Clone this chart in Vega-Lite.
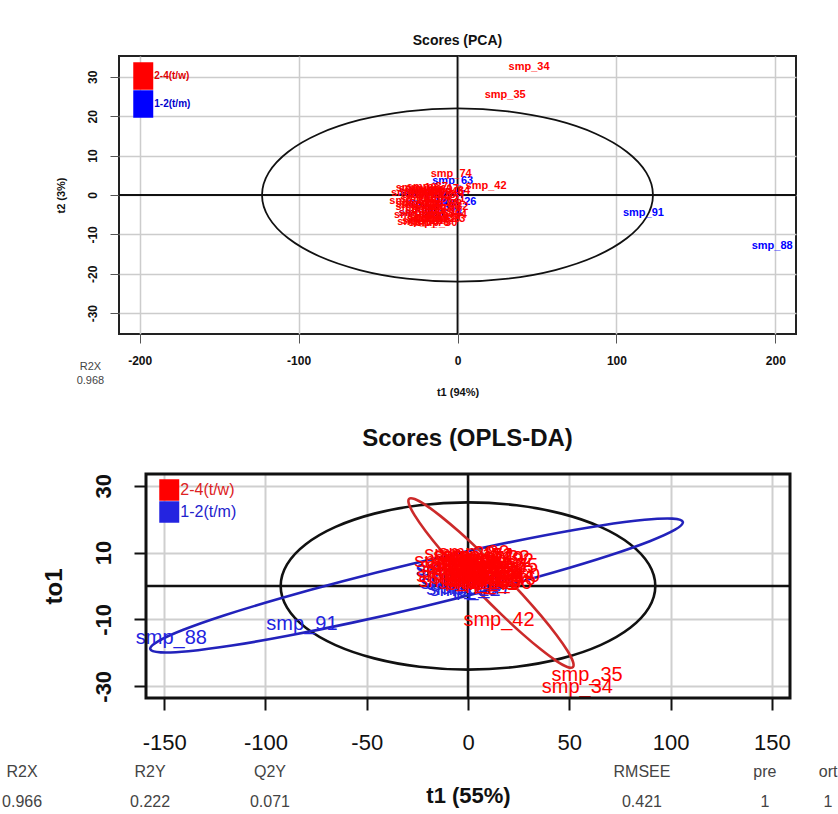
{
  "$schema": "https://vega.github.io/schema/vega-lite/v6.json",
  "padding": {"left": 2, "top": 33, "right": 0, "bottom": 0},
  "spacing": 28,
  "config": {
    "font": "Liberation Sans",
    "view": {"stroke": "#222", "strokeWidth": 2},
    "axis": {"labelFont": "Liberation Sans", "titleFont": "Liberation Sans", "labelColor": "#111", "titleColor": "#111", "domain": false, "grid": true},
    "title": {"font": "Liberation Sans", "color": "#111", "fontWeight": "bold", "anchor": "middle"}
  },
  "resolve": {"scale": {"color": "independent"}, "legend": {"color": "independent"}},
  "datasets": {
    "one": [{}],
    "smp": [
      {"n": "smp_88", "g": "1-2(t/m)", "t1": 198, "t2": -13, "p": -146.5, "o": -15.5},
      {"n": "smp_91", "g": "1-2(t/m)", "t1": 117, "t2": -4.5, "p": -82, "o": -11.4},
      {"n": "smp_63", "g": "1-2(t/m)", "t1": -3, "t2": 3.6, "p": -2, "o": 4},
      {"n": "smp_26", "g": "1-2(t/m)", "t1": -1, "t2": -1.8, "p": -5, "o": 2},
      {"n": "smp_78", "g": "1-2(t/m)", "t1": -10, "t2": -4.6, "p": -3, "o": -1},
      {"n": "smp_3", "g": "1-2(t/m)", "t1": -26, "t2": 0.8, "p": -11, "o": 4.8},
      {"n": "smp_12", "g": "1-2(t/m)", "t1": -24, "t2": -4.6, "p": -1.5, "o": -1.2},
      {"n": "smp_20", "g": "1-2(t/m)", "t1": -20, "t2": -2, "p": -6, "o": 1},
      {"n": "smp_33", "g": "1-2(t/m)", "t1": -14, "t2": -3.2, "p": 0, "o": 0.5},
      {"n": "smp_47", "g": "1-2(t/m)", "t1": -8, "t2": 0, "p": 4, "o": -0.5},
      {"n": "smp_55", "g": "1-2(t/m)", "t1": -17, "t2": 0.5, "p": -8, "o": 5},
      {"n": "smp_74", "g": "2-4(t/w)", "t1": -4, "t2": 5.3, "p": 5, "o": 9},
      {"n": "smp_42", "g": "2-4(t/w)", "t1": 18, "t2": 2.3, "p": 15.3, "o": -10.2},
      {"n": "smp_35", "g": "2-4(t/w)", "t1": 30, "t2": 25.3, "p": 58.8, "o": -26.6},
      {"n": "smp_34", "g": "2-4(t/w)", "t1": 45, "t2": 32.4, "p": 54, "o": -30.2},
      {"n": "smp_2", "g": "2-4(t/w)", "t1": -25, "t2": -1, "p": 2, "o": 5},
      {"n": "smp_5", "g": "2-4(t/w)", "t1": -20, "t2": 0.5, "p": 8, "o": 6},
      {"n": "smp_7", "g": "2-4(t/w)", "t1": -15, "t2": -2, "p": -3, "o": 7},
      {"n": "smp_9", "g": "2-4(t/w)", "t1": -28, "t2": -3, "p": 12, "o": 3},
      {"n": "smp_11", "g": "2-4(t/w)", "t1": -10, "t2": -4, "p": 0, "o": 9},
      {"n": "smp_13", "g": "2-4(t/w)", "t1": -18, "t2": -5.5, "p": 15, "o": 4},
      {"n": "smp_15", "g": "2-4(t/w)", "t1": -22, "t2": -6.5, "p": -6, "o": 6},
      {"n": "smp_17", "g": "2-4(t/w)", "t1": -12, "t2": 1.5, "p": 6, "o": 2},
      {"n": "smp_19", "g": "2-4(t/w)", "t1": -26, "t2": 1.8, "p": 10, "o": 8},
      {"n": "smp_21", "g": "2-4(t/w)", "t1": -8, "t2": -1, "p": -8, "o": 3},
      {"n": "smp_23", "g": "2-4(t/w)", "t1": -16, "t2": -3.5, "p": 3, "o": 1},
      {"n": "smp_25", "g": "2-4(t/w)", "t1": -24, "t2": -4.5, "p": 17, "o": 6},
      {"n": "smp_28", "g": "2-4(t/w)", "t1": -14, "t2": 0, "p": -4, "o": 9.5},
      {"n": "smp_30", "g": "2-4(t/w)", "t1": -30, "t2": -1.5, "p": 9, "o": 4},
      {"n": "smp_32", "g": "2-4(t/w)", "t1": -6, "t2": -3, "p": 13, "o": 8.5},
      {"n": "smp_37", "g": "2-4(t/w)", "t1": -19, "t2": 2, "p": 1, "o": 3.5},
      {"n": "smp_39", "g": "2-4(t/w)", "t1": -11, "t2": -6, "p": -9, "o": 7.5},
      {"n": "smp_41", "g": "2-4(t/w)", "t1": -27, "t2": -5, "p": 7, "o": 0.5},
      {"n": "smp_44", "g": "2-4(t/w)", "t1": -17, "t2": -0.5, "p": 4, "o": 6.5},
      {"n": "smp_46", "g": "2-4(t/w)", "t1": -9, "t2": 0.8, "p": 16, "o": 2},
      {"n": "smp_48", "g": "2-4(t/w)", "t1": -23, "t2": -2.5, "p": -2, "o": 5.5},
      {"n": "smp_50", "g": "2-4(t/w)", "t1": -13, "t2": -7, "p": 11, "o": 5},
      {"n": "smp_52", "g": "2-4(t/w)", "t1": -21, "t2": 1, "p": 5, "o": 9},
      {"n": "smp_54", "g": "2-4(t/w)", "t1": -7, "t2": -5, "p": -7, "o": 1.5},
      {"n": "smp_56", "g": "2-4(t/w)", "t1": -29, "t2": 0.5, "p": 14, "o": 1},
      {"n": "smp_58", "g": "2-4(t/w)", "t1": -15, "t2": -4.8, "p": 2, "o": 7},
      {"n": "smp_60", "g": "2-4(t/w)", "t1": -25, "t2": -6.8, "p": 18, "o": 3},
      {"n": "smp_62", "g": "2-4(t/w)", "t1": -10, "t2": -2.2, "p": -5, "o": 4.5},
      {"n": "smp_65", "g": "2-4(t/w)", "t1": -20, "t2": -3.8, "p": 8, "o": 1.5},
      {"n": "smp_67", "g": "2-4(t/w)", "t1": -12, "t2": -1.2, "p": 12, "o": 6},
      {"n": "smp_69", "g": "2-4(t/w)", "t1": -16, "t2": 1.2, "p": 0, "o": 5},
      {"n": "smp_71", "g": "2-4(t/w)", "t1": -26, "t2": -2.2, "p": 6, "o": 8},
      {"n": "smp_73", "g": "2-4(t/w)", "t1": -8, "t2": -6.2, "p": -1, "o": 2.5},
      {"n": "smp_76", "g": "2-4(t/w)", "t1": -18, "t2": -7.2, "p": 10, "o": 3},
      {"n": "smp_80", "g": "2-4(t/w)", "t1": -22, "t2": 0, "p": 3, "o": 9.8},
      {"n": "smp_82", "g": "2-4(t/w)", "t1": -14, "t2": -6, "p": 15, "o": 7.5},
      {"n": "smp_84", "g": "2-4(t/w)", "t1": -5, "t2": 1, "p": -3, "o": 6},
      {"n": "smp_86", "g": "2-4(t/w)", "t1": -24, "t2": 1.5, "p": 7, "o": 4},
      {"n": "smp_90", "g": "2-4(t/w)", "t1": -11, "t2": -3, "p": 1, "o": 8},
      {"n": "smp_93", "g": "2-4(t/w)", "t1": -19, "t2": -6, "p": 9, "o": 2}
    ],
    "ellTop": [
      {"i": 0, "x": 123, "y": 0}, {"i": 1, "x": 118.8, "y": 5.69}, {"i": 2, "x": 106.5, "y": 11}, {"i": 3, "x": 87, "y": 15.56},
      {"i": 4, "x": 61.5, "y": 19.05}, {"i": 5, "x": 31.8, "y": 21.25}, {"i": 6, "x": 0, "y": 22}, {"i": 7, "x": -31.8, "y": 21.25},
      {"i": 8, "x": -61.5, "y": 19.05}, {"i": 9, "x": -87, "y": 15.56}, {"i": 10, "x": -106.5, "y": 11}, {"i": 11, "x": -118.8, "y": 5.69},
      {"i": 12, "x": -123, "y": 0}, {"i": 13, "x": -118.8, "y": -5.69}, {"i": 14, "x": -106.5, "y": -11}, {"i": 15, "x": -87, "y": -15.56},
      {"i": 16, "x": -61.5, "y": -19.05}, {"i": 17, "x": -31.8, "y": -21.25}, {"i": 18, "x": 0, "y": -22}, {"i": 19, "x": 31.8, "y": -21.25},
      {"i": 20, "x": 61.5, "y": -19.05}, {"i": 21, "x": 87, "y": -15.56}, {"i": 22, "x": 106.5, "y": -11}, {"i": 23, "x": 118.8, "y": -5.69}
    ],
    "ellBlack": [
      {"i": 0, "x": 92.5, "y": 0}, {"i": 1, "x": 89.35, "y": 6.47}, {"i": 2, "x": 80.1, "y": 12.5}, {"i": 3, "x": 65.41, "y": 17.68},
      {"i": 4, "x": 46.25, "y": 21.65}, {"i": 5, "x": 23.94, "y": 24.15}, {"i": 6, "x": 0, "y": 25}, {"i": 7, "x": -23.94, "y": 24.15},
      {"i": 8, "x": -46.25, "y": 21.65}, {"i": 9, "x": -65.41, "y": 17.68}, {"i": 10, "x": -80.1, "y": 12.5}, {"i": 11, "x": -89.35, "y": 6.47},
      {"i": 12, "x": -92.5, "y": 0}, {"i": 13, "x": -89.35, "y": -6.47}, {"i": 14, "x": -80.1, "y": -12.5}, {"i": 15, "x": -65.41, "y": -17.68},
      {"i": 16, "x": -46.25, "y": -21.65}, {"i": 17, "x": -23.94, "y": -24.15}, {"i": 18, "x": 0, "y": -25}, {"i": 19, "x": 23.94, "y": -24.15},
      {"i": 20, "x": 46.25, "y": -21.65}, {"i": 21, "x": 65.41, "y": -17.68}, {"i": 22, "x": 80.1, "y": -12.5}, {"i": 23, "x": 89.35, "y": -6.47}
    ],
    "ellBlue": [
      {"i": 0, "x": 106.1, "y": 19.15}, {"i": 1, "x": 102.25, "y": 16.84}, {"i": 2, "x": 89.76, "y": 13.4}, {"i": 3, "x": 69.38, "y": 9.05},
      {"i": 4, "x": 42.53, "y": 4.11}, {"i": 5, "x": 11.06, "y": -1.11}, {"i": 6, "x": -22.88, "y": -6.25}, {"i": 7, "x": -57, "y": -10.95},
      {"i": 8, "x": -88.97, "y": -14.89}, {"i": 9, "x": -116.62, "y": -17.81}, {"i": 10, "x": -138.04, "y": -19.5}, {"i": 11, "x": -151.75, "y": -19.86},
      {"i": 12, "x": -156.9, "y": -18.85}, {"i": 13, "x": -153.05, "y": -16.54}, {"i": 14, "x": -140.56, "y": -13.1}, {"i": 15, "x": -120.18, "y": -8.75},
      {"i": 16, "x": -93.33, "y": -3.81}, {"i": 17, "x": -61.86, "y": 1.41}, {"i": 18, "x": -27.92, "y": 6.55}, {"i": 19, "x": 6.2, "y": 11.25},
      {"i": 20, "x": 38.17, "y": 15.19}, {"i": 21, "x": 65.82, "y": 18.11}, {"i": 22, "x": 87.24, "y": 19.8}, {"i": 23, "x": 100.95, "y": 20.16}
    ],
    "ellRed": [
      {"i": 0, "x": 51.8, "y": -24.25}, {"i": 1, "x": 49.05, "y": -24.2}, {"i": 2, "x": 43.74, "y": -22.45}, {"i": 3, "x": 36.22, "y": -19.1},
      {"i": 4, "x": 27.01, "y": -14.4}, {"i": 5, "x": 16.72, "y": -8.64}, {"i": 6, "x": 6.07, "y": -2.24}, {"i": 7, "x": -4.22, "y": 4.38},
      {"i": 8, "x": -13.45, "y": 10.76}, {"i": 9, "x": -20.98, "y": 16.46}, {"i": 10, "x": -26.32, "y": 21.11}, {"i": 11, "x": -29.09, "y": 24.38},
      {"i": 12, "x": -29.1, "y": 26.05}, {"i": 13, "x": -26.35, "y": 26}, {"i": 14, "x": -21.04, "y": 24.25}, {"i": 15, "x": -13.52, "y": 20.9},
      {"i": 16, "x": -4.31, "y": 16.2}, {"i": 17, "x": 5.98, "y": 10.44}, {"i": 18, "x": 16.63, "y": 4.04}, {"i": 19, "x": 26.92, "y": -2.58},
      {"i": 20, "x": 36.15, "y": -8.96}, {"i": 21, "x": 43.68, "y": -14.66}, {"i": 22, "x": 49.02, "y": -19.31}, {"i": 23, "x": 51.79, "y": -22.58}
    ]
  },
  "vconcat": [
    {
      "width": 677,
      "height": 278,
      "title": {"text": "Scores (PCA)", "fontSize": 14, "offset": 7},
      "layer": [
        {
          "data": {"name": "ellTop"},
          "mark": {"type": "line", "color": "#111", "strokeWidth": 1.8, "interpolate": "cardinal-closed"},
          "encoding": {
            "x": {"field": "x", "type": "quantitative", "scale": {"domain": [-213, 213], "nice": false, "zero": false},
              "axis": {"values": [-200, -100, 0, 100, 200], "labelExpr": "'' + datum.value", "title": "t1 (94%)", "labelFontSize": 12, "labelFontWeight": "bold", "titleFontSize": 11, "titleFontWeight": "bold", "tickSize": 9, "tickColor": "#555", "labelPadding": 12, "titlePadding": 20, "gridColor": "#cccccc", "gridWidth": 1.5}},
            "y": {"field": "y", "type": "quantitative", "scale": {"domain": [-35.3, 35.3], "nice": false, "zero": false},
              "axis": {"values": [-30, -20, -10, 0, 10, 20, 30], "labelExpr": "'' + datum.value", "title": "t2 (3%)", "labelAngle": -90, "labelFontSize": 12, "labelFontWeight": "bold", "titleFontSize": 11, "titleFontWeight": "bold", "tickSize": 9, "tickColor": "#555", "labelPadding": 11, "titlePadding": 20, "gridColor": "#cccccc", "gridWidth": 1.5}},
            "order": {"field": "i"}
          }
        },
        {
          "data": {"name": "one"},
          "mark": {"type": "rule", "color": "#111", "strokeWidth": 1.8},
          "encoding": {"x": {"datum": 0}}
        },
        {
          "data": {"name": "one"},
          "mark": {"type": "rule", "color": "#111", "strokeWidth": 1.8},
          "encoding": {"y": {"datum": 0}}
        },
        {
          "data": {"name": "smp"},
          "mark": {"type": "text", "fontSize": 11, "fontWeight": "bold"},
          "encoding": {
            "x": {"field": "t1", "type": "quantitative"},
            "y": {"field": "t2", "type": "quantitative"},
            "text": {"field": "n"},
            "color": {"field": "g", "type": "nominal", "scale": {"domain": ["2-4(t/w)", "1-2(t/m)"], "range": ["#ff0000", "#0000ff"]},
              "legend": {"orient": "none", "legendX": 10.25, "legendY": 6, "title": null, "symbolType": "M-0.727,-1H0.727V1H-0.727Z", "symbolSize": 756, "symbolStrokeWidth": 0, "symbolOpacity": 1, "rowPadding": 0, "padding": 0, "labelOffset": -3, "labelFontSize": 10, "labelFontWeight": "bold",
                "encode": {"labels": {"update": {"fill": {"signal": "datum.value === '2-4(t/w)' ? '#e00000' : '#0000cc'"}}}, "symbols": {"update": {"fill": {"signal": "datum.value === '2-4(t/w)' ? '#ff0000' : '#0000ff'"}, "opacity": {"value": 1}}}}}}
          }
        },
        {
          "data": {"name": "one"},
          "mark": {"type": "text", "text": ["R2X", "0.968"], "fontSize": 11, "lineHeight": 14, "color": "#444", "baseline": "middle"},
          "encoding": {"x": {"datum": -231}, "y": {"datum": -43.7}}
        }
      ]
    },
    {
      "width": 671,
      "height": 224,
      "view": {"stroke": null},
      "title": {"text": "Scores (OPLS-DA)", "fontSize": 24, "offset": 22, "dx": 13},
      "layer": [
        {
          "data": {"name": "ellBlack"},
          "mark": {"type": "line", "color": "#111", "strokeWidth": 2.6, "interpolate": "cardinal-closed"},
          "encoding": {
            "x": {"field": "x", "type": "quantitative", "scale": {"domain": [-159, 159], "range": [27, 671], "nice": false, "zero": false},
              "axis": {"values": [-150, -100, -50, 0, 50, 100, 150], "labelExpr": "'' + datum.value", "title": "t1 (55%)", "labelFontSize": 22, "titleFontSize": 22, "titleFontWeight": "bold", "tickSize": 12, "tickWidth": 2, "tickColor": "#111", "labelPadding": 22, "titlePadding": 32, "gridColor": "#cfcfcf", "gridWidth": 2}},
            "y": {"field": "y", "type": "quantitative", "scale": {"domain": [-33.5, 33.5], "nice": false, "zero": false},
              "axis": {"values": [-30, -20, -10, 0, 10, 20, 30], "labelExpr": "datum.value % 20 == 0 ? '' : '' + datum.value", "offset": -27, "title": "to1", "labelAngle": -90, "labelFontSize": 22, "labelFontWeight": "bold", "titleFontSize": 24, "titleFontWeight": "bold", "tickSize": 12, "tickWidth": 2, "tickColor": "#111", "labelPadding": 19, "titlePadding": 26, "gridColor": "#cfcfcf", "gridWidth": 2}},
            "order": {"field": "i"}
          }
        },
        {
          "data": {"name": "one"},
          "mark": {"type": "rule", "color": "#111", "strokeWidth": 2.5},
          "encoding": {"x": {"datum": 0}}
        },
        {
          "data": {"name": "one"},
          "mark": {"type": "rule", "color": "#111", "strokeWidth": 2.5},
          "encoding": {"x": {"datum": -159}, "x2": {"datum": 159}, "y": {"datum": 0}}
        },
        {
          "data": {"name": "ellBlue"},
          "mark": {"type": "line", "color": "#2222bb", "strokeWidth": 2.6, "interpolate": "cardinal-closed"},
          "encoding": {
            "x": {"field": "x", "type": "quantitative"},
            "y": {"field": "y", "type": "quantitative"},
            "order": {"field": "i"}
          }
        },
        {
          "data": {"name": "ellRed"},
          "mark": {"type": "line", "color": "#cc2a2a", "strokeWidth": 2.6, "interpolate": "cardinal-closed"},
          "encoding": {
            "x": {"field": "x", "type": "quantitative"},
            "y": {"field": "y", "type": "quantitative"},
            "order": {"field": "i"}
          }
        },
        {
          "data": {"name": "smp"},
          "mark": {"type": "text", "fontSize": 20, "clip": true},
          "encoding": {
            "x": {"field": "p", "type": "quantitative"},
            "y": {"field": "o", "type": "quantitative"},
            "text": {"field": "n"},
            "color": {"field": "g", "type": "nominal", "scale": {"domain": ["2-4(t/w)", "1-2(t/m)"], "range": ["#ff0000", "#2424e0"]},
              "legend": {"orient": "none", "legendX": 39.25, "legendY": 5, "title": null, "symbolType": "M-0.93,-1H0.93V1H-0.93Z", "symbolSize": 462, "symbolStrokeWidth": 0, "symbolOpacity": 1, "rowPadding": 0, "padding": 0, "labelOffset": 0, "labelFontSize": 16,
                "encode": {"labels": {"update": {"fill": {"signal": "datum.value === '2-4(t/w)' ? '#dd2222' : '#2222cc'"}}}, "symbols": {"update": {"fill": {"signal": "datum.value === '2-4(t/w)' ? '#ff0000' : '#0000ff'"}, "opacity": {"value": 1}}}}}}
          }
        },
        {
          "data": {"name": "one"},
          "mark": {"type": "rect", "filled": false, "stroke": "#111", "strokeWidth": 3},
          "encoding": {"x": {"datum": -159}, "x2": {"datum": 159}, "y": {"datum": -33.5}, "y2": {"datum": 33.5}}
        },
        {
          "data": {"name": "one"},
          "mark": {"type": "text", "text": ["R2X", "0.966"], "fontSize": 16, "lineHeight": 30, "color": "#444", "baseline": "middle"},
          "encoding": {"x": {"datum": -220.2}, "y": {"datum": -55.6}}
        },
        {
          "data": {"name": "one"},
          "mark": {"type": "text", "text": ["R2Y", "0.222"], "fontSize": 16, "lineHeight": 30, "color": "#444", "baseline": "middle"},
          "encoding": {"x": {"datum": -157}, "y": {"datum": -55.6}}
        },
        {
          "data": {"name": "one"},
          "mark": {"type": "text", "text": ["Q2Y", "0.071"], "fontSize": 16, "lineHeight": 30, "color": "#444", "baseline": "middle"},
          "encoding": {"x": {"datum": -97.8}, "y": {"datum": -55.6}}
        },
        {
          "data": {"name": "one"},
          "mark": {"type": "text", "text": ["RMSEE", "0.421"], "fontSize": 16, "lineHeight": 30, "color": "#444", "baseline": "middle"},
          "encoding": {"x": {"datum": 85.9}, "y": {"datum": -55.6}}
        },
        {
          "data": {"name": "one"},
          "mark": {"type": "text", "text": ["pre", "1"], "fontSize": 16, "lineHeight": 30, "color": "#444", "baseline": "middle"},
          "encoding": {"x": {"datum": 146.6}, "y": {"datum": -55.6}}
        },
        {
          "data": {"name": "one"},
          "mark": {"type": "text", "text": ["ort", "1"], "fontSize": 16, "lineHeight": 30, "color": "#444", "baseline": "middle"},
          "encoding": {"x": {"datum": 177.8}, "y": {"datum": -55.6}}
        }
      ]
    }
  ]
}
